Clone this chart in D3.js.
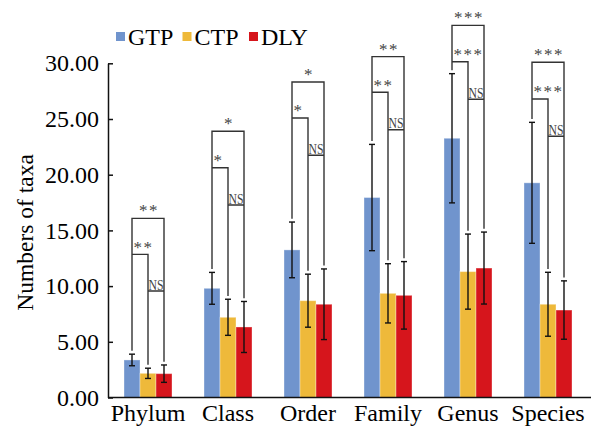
<!DOCTYPE html>
<html>
<head>
<meta charset="utf-8">
<script src="https://cdn.jsdelivr.net/npm/d3@7"></script>
<style>
  html, body { margin: 0; padding: 0; background: #fff; }
  svg { display: block; font-family: "Liberation Serif", "Times New Roman", serif; }
</style>
</head>
<body>
<div id="chart"></div>
<script>
// Numbers of taxa by rank, three groups, mean +/- error
const categories = ['Phylum', 'Class', 'Order', 'Family', 'Genus', 'Species'];
const series = ['GTP', 'CTP', 'DLY'];
const colors = ['#7094cd', '#eeb93a', '#d6151c'];

const gtpMean = [3.37, 9.80, 13.25, 17.95, 23.27, 19.27];
const gtpErr  = [0.52, 1.43, 2.50, 4.77, 5.80, 5.43];
const ctpMean = [2.17, 7.20, 8.69, 9.35, 11.30, 8.37];
const ctpErr  = [0.46, 1.62, 2.38, 2.66, 3.37, 2.87];
const dlyMean = [2.14, 6.33, 8.37, 9.17, 11.62, 7.85];
const dlyErr  = [0.78, 2.29, 3.17, 3.03, 3.23, 2.62];

// significance brackets (heights in data units)
const outerY = [16.08, 23.90, 28.32, 30.60, 33.40, 30.09];
const innerY = [12.85, 20.63, 25.09, 27.40, 30.14, 26.80];
const nsY    = [9.56, 17.28, 21.74, 24.04, 26.77, 23.45];
const outerLabel = ['**', '*', '*', '**', '***', '***'];
const innerLabel = ['**', '*', '*', '**', '***', '***'];
const nsLabel = 'NS';

const yTicks = [0, 5, 10, 15, 20, 25, 30];

const width = 591, height = 427;
const margin = { left: 108, right: 3, top: 63.3, bottom: 29.5 };
const serif = '"Liberation Serif", "Times New Roman", serif';

const means = [gtpMean, ctpMean, dlyMean];
const errs = [gtpErr, ctpErr, dlyErr];

const svg = d3.select('#chart').append('svg')
  .attr('width', width)
  .attr('height', height);

const x0 = d3.scaleBand()
  .domain(categories)
  .range([margin.left, width - margin.right])
  .paddingInner(0.4)
  .paddingOuter(0.2);

const x1 = d3.scaleBand()
  .domain(series)
  .range([0, x0.bandwidth()]);

const y = d3.scaleLinear()
  .domain([0, 30])
  .range([height - margin.bottom, margin.top]);

// flat list of bars
const bars = [];
categories.forEach((c, i) => {
  series.forEach((s, j) => {
    bars.push({ cat: c, ser: s, idx: j, mean: means[j][i], err: errs[j][i] });
  });
});

const cx = d => x0(d.cat) + x1(d.ser) + x1.bandwidth() / 2;

// bars
svg.append('g').selectAll('rect')
  .data(bars)
  .enter()
  .append('rect')
  .attr('x', d => x0(d.cat) + x1(d.ser))
  .attr('y', d => y(d.mean))
  .attr('width', x1.bandwidth())
  .attr('height', d => y(0) - y(d.mean))
  .attr('fill', d => colors[d.idx])
  .attr('stroke', 'rgba(255,255,255,0.35)')
  .attr('stroke-width', 1);

// error bars
const eb = svg.append('g')
  .attr('stroke', '#111')
  .attr('stroke-width', 1.4);

eb.selectAll('.stem')
  .data(bars)
  .enter()
  .append('line')
  .attr('x1', cx).attr('x2', cx)
  .attr('y1', d => y(d.mean + d.err))
  .attr('y2', d => y(d.mean - d.err));

eb.selectAll('.capTop')
  .data(bars)
  .enter()
  .append('line')
  .attr('x1', d => cx(d) - 3).attr('x2', d => cx(d) + 3)
  .attr('y1', d => y(d.mean + d.err))
  .attr('y2', d => y(d.mean + d.err));

eb.selectAll('.capBot')
  .data(bars)
  .enter()
  .append('line')
  .attr('x1', d => cx(d) - 3).attr('x2', d => cx(d) + 3)
  .attr('y1', d => y(d.mean - d.err))
  .attr('y2', d => y(d.mean - d.err));

// significance brackets
const gap = 0.3;
const br = svg.append('g')
  .attr('stroke', '#333')
  .attr('stroke-width', 1.4)
  .attr('fill', 'none');

categories.forEach((c, i) => {
  const xs = series.map(s => x0(c) + x1(s) + x1.bandwidth() / 2);
  const tops = series.map((s, j) => means[j][i] + errs[j][i] + gap);

  const path = d3.path();
  // GTP vertical
  path.moveTo(xs[0], y(tops[0]));
  path.lineTo(xs[0], y(outerY[i]));
  // outer horizontal
  path.lineTo(xs[2], y(outerY[i]));
  // DLY vertical
  path.lineTo(xs[2], y(tops[2]));
  // inner horizontal + CTP vertical
  path.moveTo(xs[0], y(innerY[i]));
  path.lineTo(xs[1], y(innerY[i]));
  path.lineTo(xs[1], y(tops[1]));
  // NS horizontal
  path.moveTo(xs[1], y(nsY[i]));
  path.lineTo(xs[2], y(nsY[i]));
  br.append('path').attr('d', path.toString());

  svg.append('text')
    .attr('x', (xs[0] + xs[2]) / 2 + 1)
    .attr('y', y(outerY[i]) - 2)
    .attr('text-anchor', 'middle')
    .attr('font-size', '17px')
    .attr('letter-spacing', '1.5px')
    .attr('fill', '#444')
    .text(outerLabel[i]);

  svg.append('text')
    .attr('x', xs[0] + 1.5)
    .attr('y', y(innerY[i]) - 1.5)
    .attr('text-anchor', 'start')
    .attr('font-size', '17px')
    .attr('letter-spacing', '1.5px')
    .attr('fill', '#444')
    .text(innerLabel[i]);

  svg.append('text')
    .attr('x', xs[1] + 0.5)
    .attr('y', y(nsY[i]) - 1.5)
    .attr('font-size', '14px')
    .attr('textLength', xs[2] - xs[1] - 1)
    .attr('lengthAdjust', 'spacingAndGlyphs')
    .attr('fill', '#444')
    .text(nsLabel);
});

// y axis
const yAxis = svg.append('g')
  .attr('transform', `translate(${margin.left},0)`)
  .call(d3.axisLeft(y)
    .tickValues(yTicks)
    .tickFormat(d3.format('.2f'))
    .tickSizeInner(-5)
    .tickSizeOuter(0)
    .tickPadding(9));

yAxis.select('.domain').attr('stroke', '#111').attr('stroke-width', 1.5);
yAxis.selectAll('.tick line').attr('stroke', '#111').attr('stroke-width', 1.5);
yAxis.selectAll('.tick text')
  .attr('font-family', serif)
  .attr('font-size', '24px')
  .attr('fill', '#000');

// x axis line
svg.append('line')
  .attr('x1', margin.left).attr('x2', width)
  .attr('y1', y(0)).attr('y2', y(0))
  .attr('stroke', '#111')
  .attr('stroke-width', 1.5);

// x labels
svg.append('g').selectAll('text')
  .data(categories)
  .enter()
  .append('text')
  .attr('x', d => x0(d) + x0.bandwidth() / 2)
  .attr('y', 421)
  .attr('text-anchor', 'middle')
  .attr('font-size', '24px')
  .attr('fill', '#000')
  .text(d => d);

// y title
svg.append('text')
  .attr('transform', `translate(33, ${(y(0) + y(30)) / 2 + 2}) rotate(-90)`)
  .attr('text-anchor', 'middle')
  .attr('font-size', '23.5px')
  .attr('fill', '#000')
  .text('Numbers of taxa');

// legend
const legendX = [116, 182.5, 249];
const legend = svg.append('g');
series.forEach((s, j) => {
  const g = legend.append('g').attr('transform', `translate(${legendX[j]}, 32)`);
  g.append('rect')
    .attr('width', 9)
    .attr('height', 9)
    .attr('fill', colors[j]);
  g.append('text')
    .attr('x', 12)
    .attr('y', 13)
    .attr('font-size', '24px')
    .attr('fill', '#000')
    .text(s);
});
</script>
</body>
</html>
